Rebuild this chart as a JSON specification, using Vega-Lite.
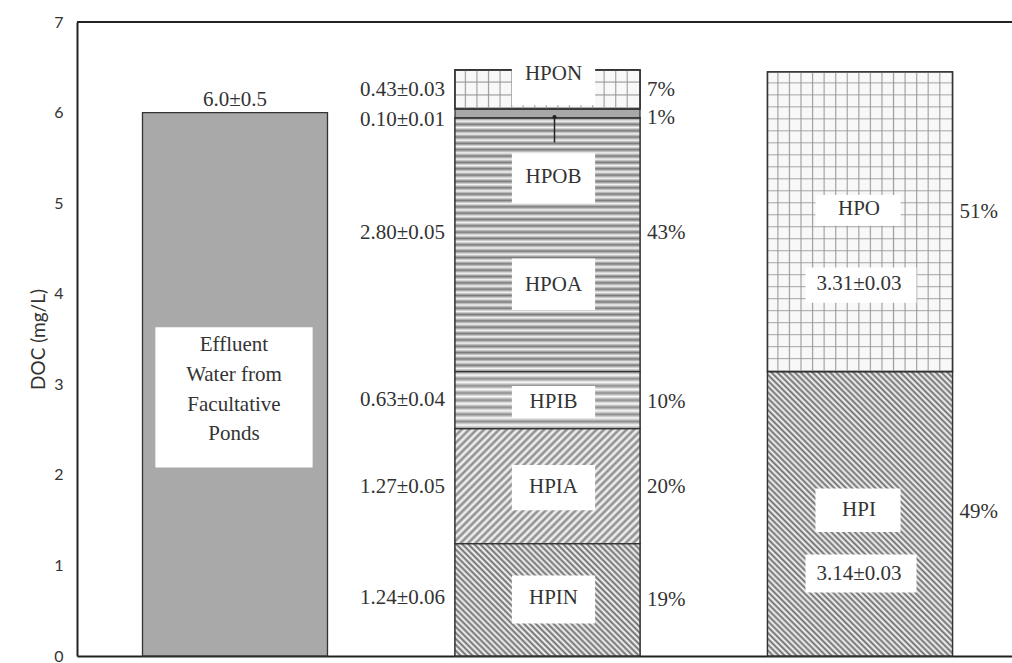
{
  "$schema": "https://vega.github.io/schema/vega-lite/v6.json",
  "width": 935,
  "height": 634,
  "autosize": {"type": "none"},
  "padding": {"left": 77, "top": 22, "right": 0, "bottom": 7},
  "background": "white",
  "config": {
    "view": {"stroke": null},
    "text": {"font": "Liberation Serif", "fontSize": 21, "color": "#333333"}
  },
  "datasets": {
    "segments": [
      {"sample": "Effluent", "fraction": "Effluent", "doc": 6.0, "seq": 1},
      {"sample": "Fractions", "fraction": "HPIN", "doc": 1.24, "seq": 1},
      {"sample": "Fractions", "fraction": "HPIA", "doc": 1.27, "seq": 2},
      {"sample": "Fractions", "fraction": "HPIB", "doc": 0.63, "seq": 3},
      {"sample": "Fractions", "fraction": "HPOA", "doc": 2.80, "seq": 4},
      {"sample": "Fractions", "fraction": "HPOB", "doc": 0.10, "seq": 5},
      {"sample": "Fractions", "fraction": "HPON", "doc": 0.43, "seq": 6},
      {"sample": "Combined", "fraction": "HPI", "doc": 3.14, "seq": 1},
      {"sample": "Combined", "fraction": "HPO", "doc": 3.31, "seq": 2}
    ],
    "boxes": [
      {"sample": "Effluent", "label": "Effluent", "lo": 2.08, "hi": 3.63},
      {"sample": "Fractions", "label": "HPON", "lo": 6.08, "hi": 6.49},
      {"sample": "Fractions", "label": "HPOB", "lo": 5.0, "hi": 5.55},
      {"sample": "Fractions", "label": "HPOA", "lo": 3.82, "hi": 4.39},
      {"sample": "Fractions", "label": "HPIB", "lo": 2.63, "hi": 2.98},
      {"sample": "Fractions", "label": "HPIA", "lo": 1.61, "hi": 2.11},
      {"sample": "Fractions", "label": "HPIN", "lo": 0.36, "hi": 0.89},
      {"sample": "Combined", "label": "HPO", "lo": 4.75, "hi": 5.09},
      {"sample": "Combined", "label": "HPI", "lo": 1.37, "hi": 1.85},
      {"sample": "Combined", "label": "3.31±0.03", "lo": 3.9, "hi": 4.29},
      {"sample": "Combined", "label": "3.14±0.03", "lo": 0.7, "hi": 1.12}
    ],
    "innerText": [
      {"sample": "Effluent", "text": "Effluent", "at": 3.43},
      {"sample": "Effluent", "text": "Water from", "at": 3.1},
      {"sample": "Effluent", "text": "Facultative", "at": 2.77},
      {"sample": "Effluent", "text": "Ponds", "at": 2.45},
      {"sample": "Fractions", "text": "HPON", "at": 6.43},
      {"sample": "Fractions", "text": "HPOB", "at": 5.29},
      {"sample": "Fractions", "text": "HPOA", "at": 4.1},
      {"sample": "Fractions", "text": "HPIB", "at": 2.8},
      {"sample": "Fractions", "text": "HPIA", "at": 1.87},
      {"sample": "Fractions", "text": "HPIN", "at": 0.64},
      {"sample": "Combined", "text": "HPO", "at": 4.94},
      {"sample": "Combined", "text": "3.31±0.03", "at": 4.11},
      {"sample": "Combined", "text": "HPI", "at": 1.61},
      {"sample": "Combined", "text": "3.14±0.03", "at": 0.91}
    ],
    "leftText": [
      {"sample": "Fractions", "text": "0.43±0.03", "at": 6.25},
      {"sample": "Fractions", "text": "0.10±0.01", "at": 5.92},
      {"sample": "Fractions", "text": "2.80±0.05", "at": 4.67},
      {"sample": "Fractions", "text": "0.63±0.04", "at": 2.83},
      {"sample": "Fractions", "text": "1.27±0.05", "at": 1.87},
      {"sample": "Fractions", "text": "1.24±0.06", "at": 0.64}
    ],
    "rightText": [
      {"sample": "Fractions", "text": "7%", "at": 6.25},
      {"sample": "Fractions", "text": "1%", "at": 5.94},
      {"sample": "Fractions", "text": "43%", "at": 4.67},
      {"sample": "Fractions", "text": "10%", "at": 2.8},
      {"sample": "Fractions", "text": "20%", "at": 1.87},
      {"sample": "Fractions", "text": "19%", "at": 0.62},
      {"sample": "Combined", "text": "51%", "at": 4.9},
      {"sample": "Combined", "text": "49%", "at": 1.59}
    ],
    "topText": [
      {"sample": "Effluent", "text": "6.0±0.5", "at": 6.0}
    ],
    "pointer": [
      {"sample": "Fractions", "from": 5.95, "to": 5.67}
    ]
  },
  "layer": [
    {
      "data": {"name": "segments"},
      "mark": {"type": "bar", "stroke": "#333333", "strokeWidth": 1.3},
      "encoding": {
        "x": {
          "field": "sample",
          "type": "nominal",
          "sort": ["Effluent", "Fractions", "Combined"],
          "scale": {"domain": ["Effluent", "Fractions", "Combined"], "paddingInner": 0.408, "paddingOuter": 0.2, "align": 0.524},
          "axis": {
            "title": null,
            "labels": false,
            "ticks": false,
            "grid": false,
            "domain": true,
            "domainColor": "#222222",
            "domainWidth": 2
          }
        },
        "y": {
          "field": "doc",
          "type": "quantitative",
          "stack": "zero",
          "scale": {"domain": [0, 7], "nice": false},
          "axis": {
            "values": [0, 1, 2, 3, 4, 5, 6, 7],
            "format": ".0f",
            "ticks": false,
            "grid": false,
            "domain": true,
            "domainColor": "#222222",
            "domainWidth": 2,
            "labelFont": "Lato",
            "labelFontSize": 16,
            "labelColor": "#333333",
            "labelPadding": 14,
            "labelBaseline": "middle",
            "title": "DOC (mg/L)",
            "titleFont": "Lato",
            "titleFontSize": 19,
            "titleFontWeight": "normal",
            "titleColor": "#333333",
            "titlePadding": 5
          }
        },
        "fill": {
          "field": "fraction",
          "type": "nominal",
          "legend": null,
          "scale": {
            "domain": ["Effluent", "HPIN", "HPIA", "HPIB", "HPOA", "HPOB", "HPON", "HPI", "HPO"],
            "range": ["#a9a9a9", "#bdbdbd", "#d3d3d3", "#d8d8d8", "#c3c3c3", "#a8a8a8", "#e2e2e2", "#bdbdbd", "#e0e0e0"]
          }
        },
        "order": {"field": "seq", "type": "quantitative"}
      }
    },
    {
      "data": {"values": [{}]},
      "mark": {"type": "rule", "color": "#222222", "strokeWidth": 2},
      "encoding": {"y": {"datum": 7}}
    },
    {
      "data": {"name": "segments"},
      "transform": [
        {"stack": "doc", "groupby": ["sample"], "sort": [{"field": "seq", "order": "ascending"}], "as": ["lo", "hi"]},
        {"filter": {"field": "fraction", "equal": "HPIN"}}
      ],
      "mark": {
        "type": "bar", "stroke": "#333333", "strokeWidth": 1.3,
        "fill": {
          "gradient": "linear", "x1": 0, "y1": 1, "x2": 1.1749, "y2": 0.2888,
          "stops": [
            {"offset": 0, "color": "#6c6c6c"}, {"offset": 0.01, "color": "#fbfbfb"}, {"offset": 0.02, "color": "#6c6c6c"}, {"offset": 0.03, "color": "#fbfbfb"}, {"offset": 0.04, "color": "#6c6c6c"}, {"offset": 0.05, "color": "#fbfbfb"}, {"offset": 0.06, "color": "#6c6c6c"}, {"offset": 0.07, "color": "#fbfbfb"}, {"offset": 0.08, "color": "#6c6c6c"}, {"offset": 0.09, "color": "#fbfbfb"},
            {"offset": 0.1, "color": "#6c6c6c"}, {"offset": 0.11, "color": "#fbfbfb"}, {"offset": 0.12, "color": "#6c6c6c"}, {"offset": 0.13, "color": "#fbfbfb"}, {"offset": 0.14, "color": "#6c6c6c"}, {"offset": 0.15, "color": "#fbfbfb"}, {"offset": 0.16, "color": "#6c6c6c"}, {"offset": 0.17, "color": "#fbfbfb"}, {"offset": 0.18, "color": "#6c6c6c"}, {"offset": 0.19, "color": "#fbfbfb"},
            {"offset": 0.2, "color": "#6c6c6c"}, {"offset": 0.21, "color": "#fbfbfb"}, {"offset": 0.22, "color": "#6c6c6c"}, {"offset": 0.23, "color": "#fbfbfb"}, {"offset": 0.24, "color": "#6c6c6c"}, {"offset": 0.25, "color": "#fbfbfb"}, {"offset": 0.26, "color": "#6c6c6c"}, {"offset": 0.27, "color": "#fbfbfb"}, {"offset": 0.28, "color": "#6c6c6c"}, {"offset": 0.29, "color": "#fbfbfb"},
            {"offset": 0.3, "color": "#6c6c6c"}, {"offset": 0.31, "color": "#fbfbfb"}, {"offset": 0.32, "color": "#6c6c6c"}, {"offset": 0.33, "color": "#fbfbfb"}, {"offset": 0.34, "color": "#6c6c6c"}, {"offset": 0.35, "color": "#fbfbfb"}, {"offset": 0.36, "color": "#6c6c6c"}, {"offset": 0.37, "color": "#fbfbfb"}, {"offset": 0.38, "color": "#6c6c6c"}, {"offset": 0.39, "color": "#fbfbfb"},
            {"offset": 0.4, "color": "#6c6c6c"}, {"offset": 0.41, "color": "#fbfbfb"}, {"offset": 0.42, "color": "#6c6c6c"}, {"offset": 0.43, "color": "#fbfbfb"}, {"offset": 0.44, "color": "#6c6c6c"}, {"offset": 0.45, "color": "#fbfbfb"}, {"offset": 0.46, "color": "#6c6c6c"}, {"offset": 0.47, "color": "#fbfbfb"}, {"offset": 0.48, "color": "#6c6c6c"}, {"offset": 0.49, "color": "#fbfbfb"},
            {"offset": 0.5, "color": "#6c6c6c"}, {"offset": 0.51, "color": "#fbfbfb"}, {"offset": 0.52, "color": "#6c6c6c"}, {"offset": 0.53, "color": "#fbfbfb"}, {"offset": 0.54, "color": "#6c6c6c"}, {"offset": 0.55, "color": "#fbfbfb"}, {"offset": 0.56, "color": "#6c6c6c"}, {"offset": 0.57, "color": "#fbfbfb"}, {"offset": 0.58, "color": "#6c6c6c"}, {"offset": 0.59, "color": "#fbfbfb"},
            {"offset": 0.6, "color": "#6c6c6c"}, {"offset": 0.61, "color": "#fbfbfb"}, {"offset": 0.62, "color": "#6c6c6c"}, {"offset": 0.63, "color": "#fbfbfb"}, {"offset": 0.64, "color": "#6c6c6c"}, {"offset": 0.65, "color": "#fbfbfb"}, {"offset": 0.66, "color": "#6c6c6c"}, {"offset": 0.67, "color": "#fbfbfb"}, {"offset": 0.68, "color": "#6c6c6c"}, {"offset": 0.69, "color": "#fbfbfb"},
            {"offset": 0.7, "color": "#6c6c6c"}, {"offset": 0.71, "color": "#fbfbfb"}, {"offset": 0.72, "color": "#6c6c6c"}, {"offset": 0.73, "color": "#fbfbfb"}, {"offset": 0.74, "color": "#6c6c6c"}, {"offset": 0.75, "color": "#fbfbfb"}, {"offset": 0.76, "color": "#6c6c6c"}, {"offset": 0.77, "color": "#fbfbfb"}, {"offset": 0.78, "color": "#6c6c6c"}, {"offset": 0.79, "color": "#fbfbfb"},
            {"offset": 0.8, "color": "#6c6c6c"}, {"offset": 0.81, "color": "#fbfbfb"}, {"offset": 0.82, "color": "#6c6c6c"}, {"offset": 0.83, "color": "#fbfbfb"}, {"offset": 0.84, "color": "#6c6c6c"}, {"offset": 0.85, "color": "#fbfbfb"}, {"offset": 0.86, "color": "#6c6c6c"}, {"offset": 0.87, "color": "#fbfbfb"}, {"offset": 0.88, "color": "#6c6c6c"}, {"offset": 0.89, "color": "#fbfbfb"},
            {"offset": 0.9, "color": "#6c6c6c"}, {"offset": 0.91, "color": "#fbfbfb"}, {"offset": 0.92, "color": "#6c6c6c"}, {"offset": 0.93, "color": "#fbfbfb"}, {"offset": 0.94, "color": "#6c6c6c"}, {"offset": 0.95, "color": "#fbfbfb"}, {"offset": 0.96, "color": "#6c6c6c"}, {"offset": 0.97, "color": "#fbfbfb"}, {"offset": 0.98, "color": "#6c6c6c"}, {"offset": 0.99, "color": "#fbfbfb"},
            {"offset": 1, "color": "#6c6c6c"}
          ]
        }
      },
      "encoding": {
        "x": {"field": "sample", "type": "nominal"},
        "y": {"field": "lo", "type": "quantitative"},
        "y2": {"field": "hi"}
      }
    },
    {
      "data": {"name": "segments"},
      "transform": [
        {"stack": "doc", "groupby": ["sample"], "sort": [{"field": "seq", "order": "ascending"}], "as": ["lo", "hi"]},
        {"filter": {"field": "fraction", "equal": "HPI"}}
      ],
      "mark": {
        "type": "bar", "stroke": "#333333", "strokeWidth": 1.3,
        "fill": {
          "gradient": "linear", "x1": 0, "y1": 1, "x2": 0.7544, "y2": -0.1597,
          "stops": [
            {"offset": 0, "color": "#6c6c6c"}, {"offset": 0.00625, "color": "#fbfbfb"}, {"offset": 0.0125, "color": "#6c6c6c"}, {"offset": 0.01875, "color": "#fbfbfb"}, {"offset": 0.025, "color": "#6c6c6c"}, {"offset": 0.03125, "color": "#fbfbfb"}, {"offset": 0.0375, "color": "#6c6c6c"}, {"offset": 0.04375, "color": "#fbfbfb"},
            {"offset": 0.05, "color": "#6c6c6c"}, {"offset": 0.05625, "color": "#fbfbfb"}, {"offset": 0.0625, "color": "#6c6c6c"}, {"offset": 0.06875, "color": "#fbfbfb"}, {"offset": 0.075, "color": "#6c6c6c"}, {"offset": 0.08125, "color": "#fbfbfb"}, {"offset": 0.0875, "color": "#6c6c6c"}, {"offset": 0.09375, "color": "#fbfbfb"},
            {"offset": 0.1, "color": "#6c6c6c"}, {"offset": 0.10625, "color": "#fbfbfb"}, {"offset": 0.1125, "color": "#6c6c6c"}, {"offset": 0.11875, "color": "#fbfbfb"}, {"offset": 0.125, "color": "#6c6c6c"}, {"offset": 0.13125, "color": "#fbfbfb"}, {"offset": 0.1375, "color": "#6c6c6c"}, {"offset": 0.14375, "color": "#fbfbfb"},
            {"offset": 0.15, "color": "#6c6c6c"}, {"offset": 0.15625, "color": "#fbfbfb"}, {"offset": 0.1625, "color": "#6c6c6c"}, {"offset": 0.16875, "color": "#fbfbfb"}, {"offset": 0.175, "color": "#6c6c6c"}, {"offset": 0.18125, "color": "#fbfbfb"}, {"offset": 0.1875, "color": "#6c6c6c"}, {"offset": 0.19375, "color": "#fbfbfb"},
            {"offset": 0.2, "color": "#6c6c6c"}, {"offset": 0.20625, "color": "#fbfbfb"}, {"offset": 0.2125, "color": "#6c6c6c"}, {"offset": 0.21875, "color": "#fbfbfb"}, {"offset": 0.225, "color": "#6c6c6c"}, {"offset": 0.23125, "color": "#fbfbfb"}, {"offset": 0.2375, "color": "#6c6c6c"}, {"offset": 0.24375, "color": "#fbfbfb"},
            {"offset": 0.25, "color": "#6c6c6c"}, {"offset": 0.25625, "color": "#fbfbfb"}, {"offset": 0.2625, "color": "#6c6c6c"}, {"offset": 0.26875, "color": "#fbfbfb"}, {"offset": 0.275, "color": "#6c6c6c"}, {"offset": 0.28125, "color": "#fbfbfb"}, {"offset": 0.2875, "color": "#6c6c6c"}, {"offset": 0.29375, "color": "#fbfbfb"},
            {"offset": 0.3, "color": "#6c6c6c"}, {"offset": 0.30625, "color": "#fbfbfb"}, {"offset": 0.3125, "color": "#6c6c6c"}, {"offset": 0.31875, "color": "#fbfbfb"}, {"offset": 0.325, "color": "#6c6c6c"}, {"offset": 0.33125, "color": "#fbfbfb"}, {"offset": 0.3375, "color": "#6c6c6c"}, {"offset": 0.34375, "color": "#fbfbfb"},
            {"offset": 0.35, "color": "#6c6c6c"}, {"offset": 0.35625, "color": "#fbfbfb"}, {"offset": 0.3625, "color": "#6c6c6c"}, {"offset": 0.36875, "color": "#fbfbfb"}, {"offset": 0.375, "color": "#6c6c6c"}, {"offset": 0.38125, "color": "#fbfbfb"}, {"offset": 0.3875, "color": "#6c6c6c"}, {"offset": 0.39375, "color": "#fbfbfb"},
            {"offset": 0.4, "color": "#6c6c6c"}, {"offset": 0.40625, "color": "#fbfbfb"}, {"offset": 0.4125, "color": "#6c6c6c"}, {"offset": 0.41875, "color": "#fbfbfb"}, {"offset": 0.425, "color": "#6c6c6c"}, {"offset": 0.43125, "color": "#fbfbfb"}, {"offset": 0.4375, "color": "#6c6c6c"}, {"offset": 0.44375, "color": "#fbfbfb"},
            {"offset": 0.45, "color": "#6c6c6c"}, {"offset": 0.45625, "color": "#fbfbfb"}, {"offset": 0.4625, "color": "#6c6c6c"}, {"offset": 0.46875, "color": "#fbfbfb"}, {"offset": 0.475, "color": "#6c6c6c"}, {"offset": 0.48125, "color": "#fbfbfb"}, {"offset": 0.4875, "color": "#6c6c6c"}, {"offset": 0.49375, "color": "#fbfbfb"},
            {"offset": 0.5, "color": "#6c6c6c"}, {"offset": 0.50625, "color": "#fbfbfb"}, {"offset": 0.5125, "color": "#6c6c6c"}, {"offset": 0.51875, "color": "#fbfbfb"}, {"offset": 0.525, "color": "#6c6c6c"}, {"offset": 0.53125, "color": "#fbfbfb"}, {"offset": 0.5375, "color": "#6c6c6c"}, {"offset": 0.54375, "color": "#fbfbfb"},
            {"offset": 0.55, "color": "#6c6c6c"}, {"offset": 0.55625, "color": "#fbfbfb"}, {"offset": 0.5625, "color": "#6c6c6c"}, {"offset": 0.56875, "color": "#fbfbfb"}, {"offset": 0.575, "color": "#6c6c6c"}, {"offset": 0.58125, "color": "#fbfbfb"}, {"offset": 0.5875, "color": "#6c6c6c"}, {"offset": 0.59375, "color": "#fbfbfb"},
            {"offset": 0.6, "color": "#6c6c6c"}, {"offset": 0.60625, "color": "#fbfbfb"}, {"offset": 0.6125, "color": "#6c6c6c"}, {"offset": 0.61875, "color": "#fbfbfb"}, {"offset": 0.625, "color": "#6c6c6c"}, {"offset": 0.63125, "color": "#fbfbfb"}, {"offset": 0.6375, "color": "#6c6c6c"}, {"offset": 0.64375, "color": "#fbfbfb"},
            {"offset": 0.65, "color": "#6c6c6c"}, {"offset": 0.65625, "color": "#fbfbfb"}, {"offset": 0.6625, "color": "#6c6c6c"}, {"offset": 0.66875, "color": "#fbfbfb"}, {"offset": 0.675, "color": "#6c6c6c"}, {"offset": 0.68125, "color": "#fbfbfb"}, {"offset": 0.6875, "color": "#6c6c6c"}, {"offset": 0.69375, "color": "#fbfbfb"},
            {"offset": 0.7, "color": "#6c6c6c"}, {"offset": 0.70625, "color": "#fbfbfb"}, {"offset": 0.7125, "color": "#6c6c6c"}, {"offset": 0.71875, "color": "#fbfbfb"}, {"offset": 0.725, "color": "#6c6c6c"}, {"offset": 0.73125, "color": "#fbfbfb"}, {"offset": 0.7375, "color": "#6c6c6c"}, {"offset": 0.74375, "color": "#fbfbfb"},
            {"offset": 0.75, "color": "#6c6c6c"}, {"offset": 0.75625, "color": "#fbfbfb"}, {"offset": 0.7625, "color": "#6c6c6c"}, {"offset": 0.76875, "color": "#fbfbfb"}, {"offset": 0.775, "color": "#6c6c6c"}, {"offset": 0.78125, "color": "#fbfbfb"}, {"offset": 0.7875, "color": "#6c6c6c"}, {"offset": 0.79375, "color": "#fbfbfb"},
            {"offset": 0.8, "color": "#6c6c6c"}, {"offset": 0.80625, "color": "#fbfbfb"}, {"offset": 0.8125, "color": "#6c6c6c"}, {"offset": 0.81875, "color": "#fbfbfb"}, {"offset": 0.825, "color": "#6c6c6c"}, {"offset": 0.83125, "color": "#fbfbfb"}, {"offset": 0.8375, "color": "#6c6c6c"}, {"offset": 0.84375, "color": "#fbfbfb"},
            {"offset": 0.85, "color": "#6c6c6c"}, {"offset": 0.85625, "color": "#fbfbfb"}, {"offset": 0.8625, "color": "#6c6c6c"}, {"offset": 0.86875, "color": "#fbfbfb"}, {"offset": 0.875, "color": "#6c6c6c"}, {"offset": 0.88125, "color": "#fbfbfb"}, {"offset": 0.8875, "color": "#6c6c6c"}, {"offset": 0.89375, "color": "#fbfbfb"},
            {"offset": 0.9, "color": "#6c6c6c"}, {"offset": 0.90625, "color": "#fbfbfb"}, {"offset": 0.9125, "color": "#6c6c6c"}, {"offset": 0.91875, "color": "#fbfbfb"}, {"offset": 0.925, "color": "#6c6c6c"}, {"offset": 0.93125, "color": "#fbfbfb"}, {"offset": 0.9375, "color": "#6c6c6c"}, {"offset": 0.94375, "color": "#fbfbfb"},
            {"offset": 0.95, "color": "#6c6c6c"}, {"offset": 0.95625, "color": "#fbfbfb"}, {"offset": 0.9625, "color": "#6c6c6c"}, {"offset": 0.96875, "color": "#fbfbfb"}, {"offset": 0.975, "color": "#6c6c6c"}, {"offset": 0.98125, "color": "#fbfbfb"}, {"offset": 0.9875, "color": "#6c6c6c"}, {"offset": 0.99375, "color": "#fbfbfb"},
            {"offset": 1, "color": "#6c6c6c"}
          ]
        }
      },
      "encoding": {
        "x": {"field": "sample", "type": "nominal"},
        "y": {"field": "lo", "type": "quantitative"},
        "y2": {"field": "hi"}
      }
    },
    {
      "data": {"name": "segments"},
      "transform": [
        {"stack": "doc", "groupby": ["sample"], "sort": [{"field": "seq", "order": "ascending"}], "as": ["lo", "hi"]},
        {"filter": {"field": "fraction", "equal": "HPIA"}}
      ],
      "mark": {
        "type": "bar", "stroke": "#333333", "strokeWidth": 1.3,
        "fill": {
          "gradient": "linear", "x1": 0, "y1": 0, "x2": 1.1696, "y2": 0.7269,
          "stops": [
            {"offset": 0, "color": "#848484"}, {"offset": 0.0125, "color": "#fcfcfc"}, {"offset": 0.025, "color": "#848484"}, {"offset": 0.0375, "color": "#fcfcfc"}, {"offset": 0.05, "color": "#848484"}, {"offset": 0.0625, "color": "#fcfcfc"}, {"offset": 0.075, "color": "#848484"}, {"offset": 0.0875, "color": "#fcfcfc"},
            {"offset": 0.1, "color": "#848484"}, {"offset": 0.1125, "color": "#fcfcfc"}, {"offset": 0.125, "color": "#848484"}, {"offset": 0.1375, "color": "#fcfcfc"}, {"offset": 0.15, "color": "#848484"}, {"offset": 0.1625, "color": "#fcfcfc"}, {"offset": 0.175, "color": "#848484"}, {"offset": 0.1875, "color": "#fcfcfc"},
            {"offset": 0.2, "color": "#848484"}, {"offset": 0.2125, "color": "#fcfcfc"}, {"offset": 0.225, "color": "#848484"}, {"offset": 0.2375, "color": "#fcfcfc"}, {"offset": 0.25, "color": "#848484"}, {"offset": 0.2625, "color": "#fcfcfc"}, {"offset": 0.275, "color": "#848484"}, {"offset": 0.2875, "color": "#fcfcfc"},
            {"offset": 0.3, "color": "#848484"}, {"offset": 0.3125, "color": "#fcfcfc"}, {"offset": 0.325, "color": "#848484"}, {"offset": 0.3375, "color": "#fcfcfc"}, {"offset": 0.35, "color": "#848484"}, {"offset": 0.3625, "color": "#fcfcfc"}, {"offset": 0.375, "color": "#848484"}, {"offset": 0.3875, "color": "#fcfcfc"},
            {"offset": 0.4, "color": "#848484"}, {"offset": 0.4125, "color": "#fcfcfc"}, {"offset": 0.425, "color": "#848484"}, {"offset": 0.4375, "color": "#fcfcfc"}, {"offset": 0.45, "color": "#848484"}, {"offset": 0.4625, "color": "#fcfcfc"}, {"offset": 0.475, "color": "#848484"}, {"offset": 0.4875, "color": "#fcfcfc"},
            {"offset": 0.5, "color": "#848484"}, {"offset": 0.5125, "color": "#fcfcfc"}, {"offset": 0.525, "color": "#848484"}, {"offset": 0.5375, "color": "#fcfcfc"}, {"offset": 0.55, "color": "#848484"}, {"offset": 0.5625, "color": "#fcfcfc"}, {"offset": 0.575, "color": "#848484"}, {"offset": 0.5875, "color": "#fcfcfc"},
            {"offset": 0.6, "color": "#848484"}, {"offset": 0.6125, "color": "#fcfcfc"}, {"offset": 0.625, "color": "#848484"}, {"offset": 0.6375, "color": "#fcfcfc"}, {"offset": 0.65, "color": "#848484"}, {"offset": 0.6625, "color": "#fcfcfc"}, {"offset": 0.675, "color": "#848484"}, {"offset": 0.6875, "color": "#fcfcfc"},
            {"offset": 0.7, "color": "#848484"}, {"offset": 0.7125, "color": "#fcfcfc"}, {"offset": 0.725, "color": "#848484"}, {"offset": 0.7375, "color": "#fcfcfc"}, {"offset": 0.75, "color": "#848484"}, {"offset": 0.7625, "color": "#fcfcfc"}, {"offset": 0.775, "color": "#848484"}, {"offset": 0.7875, "color": "#fcfcfc"},
            {"offset": 0.8, "color": "#848484"}, {"offset": 0.8125, "color": "#fcfcfc"}, {"offset": 0.825, "color": "#848484"}, {"offset": 0.8375, "color": "#fcfcfc"}, {"offset": 0.85, "color": "#848484"}, {"offset": 0.8625, "color": "#fcfcfc"}, {"offset": 0.875, "color": "#848484"}, {"offset": 0.8875, "color": "#fcfcfc"},
            {"offset": 0.9, "color": "#848484"}, {"offset": 0.9125, "color": "#fcfcfc"}, {"offset": 0.925, "color": "#848484"}, {"offset": 0.9375, "color": "#fcfcfc"}, {"offset": 0.95, "color": "#848484"}, {"offset": 0.9625, "color": "#fcfcfc"}, {"offset": 0.975, "color": "#848484"}, {"offset": 0.9875, "color": "#fcfcfc"},
            {"offset": 1, "color": "#848484"}
          ]
        }
      },
      "encoding": {
        "x": {"field": "sample", "type": "nominal"},
        "y": {"field": "lo", "type": "quantitative"},
        "y2": {"field": "hi"}
      }
    },
    {
      "data": {"name": "segments"},
      "transform": [
        {"stack": "doc", "groupby": ["sample"], "sort": [{"field": "seq", "order": "ascending"}], "as": ["lo", "hi"]},
        {"filter": {"field": "fraction", "equal": "HPOA"}}
      ],
      "mark": {
        "type": "bar", "stroke": "#333333", "strokeWidth": 1.3,
        "fill": {
          "gradient": "linear", "x1": 0, "y1": 0, "x2": 0, "y2": 1,
          "stops": [
            {"offset": 0, "color": "#7a7a7a"}, {"offset": 0.0125, "color": "#f4f4f4"}, {"offset": 0.025, "color": "#7a7a7a"}, {"offset": 0.0375, "color": "#f4f4f4"}, {"offset": 0.05, "color": "#7a7a7a"}, {"offset": 0.0625, "color": "#f4f4f4"}, {"offset": 0.075, "color": "#7a7a7a"}, {"offset": 0.0875, "color": "#f4f4f4"},
            {"offset": 0.1, "color": "#7a7a7a"}, {"offset": 0.1125, "color": "#f4f4f4"}, {"offset": 0.125, "color": "#7a7a7a"}, {"offset": 0.1375, "color": "#f4f4f4"}, {"offset": 0.15, "color": "#7a7a7a"}, {"offset": 0.1625, "color": "#f4f4f4"}, {"offset": 0.175, "color": "#7a7a7a"}, {"offset": 0.1875, "color": "#f4f4f4"},
            {"offset": 0.2, "color": "#7a7a7a"}, {"offset": 0.2125, "color": "#f4f4f4"}, {"offset": 0.225, "color": "#7a7a7a"}, {"offset": 0.2375, "color": "#f4f4f4"}, {"offset": 0.25, "color": "#7a7a7a"}, {"offset": 0.2625, "color": "#f4f4f4"}, {"offset": 0.275, "color": "#7a7a7a"}, {"offset": 0.2875, "color": "#f4f4f4"},
            {"offset": 0.3, "color": "#7a7a7a"}, {"offset": 0.3125, "color": "#f4f4f4"}, {"offset": 0.325, "color": "#7a7a7a"}, {"offset": 0.3375, "color": "#f4f4f4"}, {"offset": 0.35, "color": "#7a7a7a"}, {"offset": 0.3625, "color": "#f4f4f4"}, {"offset": 0.375, "color": "#7a7a7a"}, {"offset": 0.3875, "color": "#f4f4f4"},
            {"offset": 0.4, "color": "#7a7a7a"}, {"offset": 0.4125, "color": "#f4f4f4"}, {"offset": 0.425, "color": "#7a7a7a"}, {"offset": 0.4375, "color": "#f4f4f4"}, {"offset": 0.45, "color": "#7a7a7a"}, {"offset": 0.4625, "color": "#f4f4f4"}, {"offset": 0.475, "color": "#7a7a7a"}, {"offset": 0.4875, "color": "#f4f4f4"},
            {"offset": 0.5, "color": "#7a7a7a"}, {"offset": 0.5125, "color": "#f4f4f4"}, {"offset": 0.525, "color": "#7a7a7a"}, {"offset": 0.5375, "color": "#f4f4f4"}, {"offset": 0.55, "color": "#7a7a7a"}, {"offset": 0.5625, "color": "#f4f4f4"}, {"offset": 0.575, "color": "#7a7a7a"}, {"offset": 0.5875, "color": "#f4f4f4"},
            {"offset": 0.6, "color": "#7a7a7a"}, {"offset": 0.6125, "color": "#f4f4f4"}, {"offset": 0.625, "color": "#7a7a7a"}, {"offset": 0.6375, "color": "#f4f4f4"}, {"offset": 0.65, "color": "#7a7a7a"}, {"offset": 0.6625, "color": "#f4f4f4"}, {"offset": 0.675, "color": "#7a7a7a"}, {"offset": 0.6875, "color": "#f4f4f4"},
            {"offset": 0.7, "color": "#7a7a7a"}, {"offset": 0.7125, "color": "#f4f4f4"}, {"offset": 0.725, "color": "#7a7a7a"}, {"offset": 0.7375, "color": "#f4f4f4"}, {"offset": 0.75, "color": "#7a7a7a"}, {"offset": 0.7625, "color": "#f4f4f4"}, {"offset": 0.775, "color": "#7a7a7a"}, {"offset": 0.7875, "color": "#f4f4f4"},
            {"offset": 0.8, "color": "#7a7a7a"}, {"offset": 0.8125, "color": "#f4f4f4"}, {"offset": 0.825, "color": "#7a7a7a"}, {"offset": 0.8375, "color": "#f4f4f4"}, {"offset": 0.85, "color": "#7a7a7a"}, {"offset": 0.8625, "color": "#f4f4f4"}, {"offset": 0.875, "color": "#7a7a7a"}, {"offset": 0.8875, "color": "#f4f4f4"},
            {"offset": 0.9, "color": "#7a7a7a"}, {"offset": 0.9125, "color": "#f4f4f4"}, {"offset": 0.925, "color": "#7a7a7a"}, {"offset": 0.9375, "color": "#f4f4f4"}, {"offset": 0.95, "color": "#7a7a7a"}, {"offset": 0.9625, "color": "#f4f4f4"}, {"offset": 0.975, "color": "#7a7a7a"}, {"offset": 0.9875, "color": "#f4f4f4"},
            {"offset": 1, "color": "#7a7a7a"}
          ]
        }
      },
      "encoding": {
        "x": {"field": "sample", "type": "nominal"},
        "y": {"field": "lo", "type": "quantitative"},
        "y2": {"field": "hi"}
      }
    },
    {
      "data": {"name": "segments"},
      "transform": [
        {"stack": "doc", "groupby": ["sample"], "sort": [{"field": "seq", "order": "ascending"}], "as": ["lo", "hi"]},
        {"filter": {"field": "fraction", "equal": "HPIB"}}
      ],
      "mark": {
        "type": "bar", "stroke": "#333333", "strokeWidth": 1.3,
        "fill": {
          "gradient": "linear", "x1": 0, "y1": 0, "x2": 0, "y2": 1,
          "stops": [
            {"offset": 0, "color": "#8c8c8c"}, {"offset": 0.0625, "color": "#fafafa"}, {"offset": 0.125, "color": "#8c8c8c"}, {"offset": 0.1875, "color": "#fafafa"},
            {"offset": 0.25, "color": "#8c8c8c"}, {"offset": 0.3125, "color": "#fafafa"}, {"offset": 0.375, "color": "#8c8c8c"}, {"offset": 0.4375, "color": "#fafafa"},
            {"offset": 0.5, "color": "#8c8c8c"}, {"offset": 0.5625, "color": "#fafafa"}, {"offset": 0.625, "color": "#8c8c8c"}, {"offset": 0.6875, "color": "#fafafa"},
            {"offset": 0.75, "color": "#8c8c8c"}, {"offset": 0.8125, "color": "#fafafa"}, {"offset": 0.875, "color": "#8c8c8c"}, {"offset": 0.9375, "color": "#fafafa"},
            {"offset": 1, "color": "#8c8c8c"}
          ]
        }
      },
      "encoding": {
        "x": {"field": "sample", "type": "nominal"},
        "y": {"field": "lo", "type": "quantitative"},
        "y2": {"field": "hi"}
      }
    },
    {
      "data": {"name": "segments"},
      "transform": [
        {"stack": "doc", "groupby": ["sample"], "sort": [{"field": "seq", "order": "ascending"}], "as": ["lo", "hi"]},
        {"filter": {"field": "fraction", "equal": "HPO"}}
      ],
      "mark": {
        "type": "bar", "stroke": "#333333", "strokeWidth": 1.3,
        "fill": {
          "gradient": "linear", "x1": 0, "y1": 0, "x2": 0, "y2": 1,
          "stops": [
            {"offset": 0, "color": "#f8f8f8"}, {"offset": 0.034, "color": "#f8f8f8"}, {"offset": 0.037, "color": "#9a9a9a"},
            {"offset": 0.04, "color": "#f8f8f8"}, {"offset": 0.074, "color": "#f8f8f8"}, {"offset": 0.077, "color": "#9a9a9a"},
            {"offset": 0.08, "color": "#f8f8f8"}, {"offset": 0.114, "color": "#f8f8f8"}, {"offset": 0.117, "color": "#9a9a9a"},
            {"offset": 0.12, "color": "#f8f8f8"}, {"offset": 0.154, "color": "#f8f8f8"}, {"offset": 0.157, "color": "#9a9a9a"},
            {"offset": 0.16, "color": "#f8f8f8"}, {"offset": 0.194, "color": "#f8f8f8"}, {"offset": 0.197, "color": "#9a9a9a"},
            {"offset": 0.2, "color": "#f8f8f8"}, {"offset": 0.234, "color": "#f8f8f8"}, {"offset": 0.237, "color": "#9a9a9a"},
            {"offset": 0.24, "color": "#f8f8f8"}, {"offset": 0.274, "color": "#f8f8f8"}, {"offset": 0.277, "color": "#9a9a9a"},
            {"offset": 0.28, "color": "#f8f8f8"}, {"offset": 0.314, "color": "#f8f8f8"}, {"offset": 0.317, "color": "#9a9a9a"},
            {"offset": 0.32, "color": "#f8f8f8"}, {"offset": 0.354, "color": "#f8f8f8"}, {"offset": 0.357, "color": "#9a9a9a"},
            {"offset": 0.36, "color": "#f8f8f8"}, {"offset": 0.394, "color": "#f8f8f8"}, {"offset": 0.397, "color": "#9a9a9a"},
            {"offset": 0.4, "color": "#f8f8f8"}, {"offset": 0.434, "color": "#f8f8f8"}, {"offset": 0.437, "color": "#9a9a9a"},
            {"offset": 0.44, "color": "#f8f8f8"}, {"offset": 0.474, "color": "#f8f8f8"}, {"offset": 0.477, "color": "#9a9a9a"},
            {"offset": 0.48, "color": "#f8f8f8"}, {"offset": 0.514, "color": "#f8f8f8"}, {"offset": 0.517, "color": "#9a9a9a"},
            {"offset": 0.52, "color": "#f8f8f8"}, {"offset": 0.554, "color": "#f8f8f8"}, {"offset": 0.557, "color": "#9a9a9a"},
            {"offset": 0.56, "color": "#f8f8f8"}, {"offset": 0.594, "color": "#f8f8f8"}, {"offset": 0.597, "color": "#9a9a9a"},
            {"offset": 0.6, "color": "#f8f8f8"}, {"offset": 0.634, "color": "#f8f8f8"}, {"offset": 0.637, "color": "#9a9a9a"},
            {"offset": 0.64, "color": "#f8f8f8"}, {"offset": 0.674, "color": "#f8f8f8"}, {"offset": 0.677, "color": "#9a9a9a"},
            {"offset": 0.68, "color": "#f8f8f8"}, {"offset": 0.714, "color": "#f8f8f8"}, {"offset": 0.717, "color": "#9a9a9a"},
            {"offset": 0.72, "color": "#f8f8f8"}, {"offset": 0.754, "color": "#f8f8f8"}, {"offset": 0.757, "color": "#9a9a9a"},
            {"offset": 0.76, "color": "#f8f8f8"}, {"offset": 0.794, "color": "#f8f8f8"}, {"offset": 0.797, "color": "#9a9a9a"},
            {"offset": 0.8, "color": "#f8f8f8"}, {"offset": 0.834, "color": "#f8f8f8"}, {"offset": 0.837, "color": "#9a9a9a"},
            {"offset": 0.84, "color": "#f8f8f8"}, {"offset": 0.874, "color": "#f8f8f8"}, {"offset": 0.877, "color": "#9a9a9a"},
            {"offset": 0.88, "color": "#f8f8f8"}, {"offset": 0.914, "color": "#f8f8f8"}, {"offset": 0.917, "color": "#9a9a9a"},
            {"offset": 0.92, "color": "#f8f8f8"}, {"offset": 0.954, "color": "#f8f8f8"}, {"offset": 0.957, "color": "#9a9a9a"},
            {"offset": 0.96, "color": "#f8f8f8"}, {"offset": 0.994, "color": "#f8f8f8"}, {"offset": 0.997, "color": "#9a9a9a"},
            {"offset": 1, "color": "#f8f8f8"}
          ]
        }
      },
      "encoding": {
        "x": {"field": "sample", "type": "nominal"},
        "y": {"field": "lo", "type": "quantitative"},
        "y2": {"field": "hi"}
      }
    },
    {
      "data": {"name": "segments"},
      "transform": [
        {"stack": "doc", "groupby": ["sample"], "sort": [{"field": "seq", "order": "ascending"}], "as": ["lo", "hi"]},
        {"filter": {"field": "fraction", "equal": "HPON"}}
      ],
      "mark": {
        "type": "bar", "stroke": "#333333", "strokeWidth": 1.3,
        "fill": {
          "gradient": "linear", "x1": 0, "y1": 0, "x2": 0, "y2": 1,
          "stops": [
            {"offset": 0, "color": "#f8f8f8"}, {"offset": 0.28, "color": "#f8f8f8"}, {"offset": 0.31, "color": "#9a9a9a"},
            {"offset": 0.34, "color": "#f8f8f8"}, {"offset": 0.61, "color": "#f8f8f8"}, {"offset": 0.64, "color": "#9a9a9a"},
            {"offset": 0.67, "color": "#f8f8f8"}, {"offset": 0.94, "color": "#f8f8f8"}, {"offset": 0.97, "color": "#9a9a9a"},
            {"offset": 1, "color": "#f8f8f8"}
          ]
        }
      },
      "encoding": {
        "x": {"field": "sample", "type": "nominal"},
        "y": {"field": "lo", "type": "quantitative"},
        "y2": {"field": "hi"}
      }
    },
    {
      "data": {"name": "segments"},
      "transform": [
        {"stack": "doc", "groupby": ["sample"], "sort": [{"field": "seq", "order": "ascending"}], "as": ["lo", "hi"]},
        {"filter": {"field": "fraction", "oneOf": ["HPO", "HPON"]}}
      ],
      "mark": {
        "type": "bar", "stroke": "#333333", "strokeWidth": 1.3,
        "fill": {
          "gradient": "linear", "x1": 0, "y1": 0, "x2": 1, "y2": 0,
          "stops": [
            {"offset": 0, "color": "rgba(150,150,150,0)"}, {"offset": 0.05, "color": "rgba(150,150,150,0)"}, {"offset": 0.056, "color": "rgba(150,150,150,0.9)"},
            {"offset": 0.0625, "color": "rgba(150,150,150,0)"}, {"offset": 0.1125, "color": "rgba(150,150,150,0)"}, {"offset": 0.1185, "color": "rgba(150,150,150,0.9)"},
            {"offset": 0.125, "color": "rgba(150,150,150,0)"}, {"offset": 0.175, "color": "rgba(150,150,150,0)"}, {"offset": 0.181, "color": "rgba(150,150,150,0.9)"},
            {"offset": 0.1875, "color": "rgba(150,150,150,0)"}, {"offset": 0.2375, "color": "rgba(150,150,150,0)"}, {"offset": 0.2435, "color": "rgba(150,150,150,0.9)"},
            {"offset": 0.25, "color": "rgba(150,150,150,0)"}, {"offset": 0.3, "color": "rgba(150,150,150,0)"}, {"offset": 0.306, "color": "rgba(150,150,150,0.9)"},
            {"offset": 0.3125, "color": "rgba(150,150,150,0)"}, {"offset": 0.3625, "color": "rgba(150,150,150,0)"}, {"offset": 0.3685, "color": "rgba(150,150,150,0.9)"},
            {"offset": 0.375, "color": "rgba(150,150,150,0)"}, {"offset": 0.425, "color": "rgba(150,150,150,0)"}, {"offset": 0.431, "color": "rgba(150,150,150,0.9)"},
            {"offset": 0.4375, "color": "rgba(150,150,150,0)"}, {"offset": 0.4875, "color": "rgba(150,150,150,0)"}, {"offset": 0.4935, "color": "rgba(150,150,150,0.9)"},
            {"offset": 0.5, "color": "rgba(150,150,150,0)"}, {"offset": 0.55, "color": "rgba(150,150,150,0)"}, {"offset": 0.556, "color": "rgba(150,150,150,0.9)"},
            {"offset": 0.5625, "color": "rgba(150,150,150,0)"}, {"offset": 0.6125, "color": "rgba(150,150,150,0)"}, {"offset": 0.6185, "color": "rgba(150,150,150,0.9)"},
            {"offset": 0.625, "color": "rgba(150,150,150,0)"}, {"offset": 0.675, "color": "rgba(150,150,150,0)"}, {"offset": 0.681, "color": "rgba(150,150,150,0.9)"},
            {"offset": 0.6875, "color": "rgba(150,150,150,0)"}, {"offset": 0.7375, "color": "rgba(150,150,150,0)"}, {"offset": 0.7435, "color": "rgba(150,150,150,0.9)"},
            {"offset": 0.75, "color": "rgba(150,150,150,0)"}, {"offset": 0.8, "color": "rgba(150,150,150,0)"}, {"offset": 0.806, "color": "rgba(150,150,150,0.9)"},
            {"offset": 0.8125, "color": "rgba(150,150,150,0)"}, {"offset": 0.8625, "color": "rgba(150,150,150,0)"}, {"offset": 0.8685, "color": "rgba(150,150,150,0.9)"},
            {"offset": 0.875, "color": "rgba(150,150,150,0)"}, {"offset": 0.925, "color": "rgba(150,150,150,0)"}, {"offset": 0.931, "color": "rgba(150,150,150,0.9)"},
            {"offset": 0.9375, "color": "rgba(150,150,150,0)"}, {"offset": 1, "color": "rgba(150,150,150,0)"}
          ]
        }
      },
      "encoding": {
        "x": {"field": "sample", "type": "nominal"},
        "y": {"field": "lo", "type": "quantitative"},
        "y2": {"field": "hi"}
      }
    },
    {
      "data": {"name": "boxes"},
      "transform": [{"filter": {"field": "sample", "equal": "Effluent"}}],
      "mark": {"type": "bar", "fill": "white", "width": {"band": 0.85}, "xOffset": -1},
      "encoding": {
        "x": {"field": "sample", "type": "nominal"},
        "y": {"field": "lo", "type": "quantitative"},
        "y2": {"field": "hi"}
      }
    },
    {
      "data": {"name": "boxes"},
      "transform": [{"filter": {"field": "sample", "equal": "Fractions"}}],
      "mark": {"type": "bar", "fill": "white", "width": {"band": 0.45}, "xOffset": 6},
      "encoding": {
        "x": {"field": "sample", "type": "nominal"},
        "y": {"field": "lo", "type": "quantitative"},
        "y2": {"field": "hi"}
      }
    },
    {
      "data": {"name": "boxes"},
      "transform": [{"filter": {"field": "label", "oneOf": ["HPO", "HPI"]}}],
      "mark": {"type": "bar", "fill": "white", "width": {"band": 0.46}, "xOffset": -2},
      "encoding": {
        "x": {"field": "sample", "type": "nominal"},
        "y": {"field": "lo", "type": "quantitative"},
        "y2": {"field": "hi"}
      }
    },
    {
      "data": {"name": "boxes"},
      "transform": [{"filter": {"field": "label", "oneOf": ["3.31±0.03", "3.14±0.03"]}}],
      "mark": {"type": "bar", "fill": "white", "width": {"band": 0.6}, "xOffset": 1},
      "encoding": {
        "x": {"field": "sample", "type": "nominal"},
        "y": {"field": "lo", "type": "quantitative"},
        "y2": {"field": "hi"}
      }
    },
    {
      "data": {"name": "pointer"},
      "mark": {"type": "rule", "color": "#222222", "strokeWidth": 1.5, "xOffset": 7},
      "encoding": {
        "x": {"field": "sample", "type": "nominal"},
        "y": {"field": "from", "type": "quantitative"},
        "y2": {"field": "to"}
      }
    },
    {
      "data": {"name": "pointer"},
      "mark": {"type": "point", "filled": true, "color": "#222222", "size": 18, "opacity": 1, "xOffset": 7},
      "encoding": {
        "x": {"field": "sample", "type": "nominal"},
        "y": {"field": "from", "type": "quantitative"}
      }
    },
    {
      "data": {"name": "innerText"},
      "transform": [{"filter": {"field": "sample", "equal": "Fractions"}}],
      "mark": {"type": "text", "align": "center", "baseline": "middle", "dx": 6},
      "encoding": {
        "x": {"field": "sample", "type": "nominal"},
        "y": {"field": "at", "type": "quantitative"},
        "text": {"field": "text"}
      }
    },
    {
      "data": {"name": "innerText"},
      "transform": [{"filter": {"field": "sample", "oneOf": ["Effluent", "Combined"]}}],
      "mark": {"type": "text", "align": "center", "baseline": "middle", "dx": -1},
      "encoding": {
        "x": {"field": "sample", "type": "nominal"},
        "y": {"field": "at", "type": "quantitative"},
        "text": {"field": "text"}
      }
    },
    {
      "data": {"name": "leftText"},
      "mark": {"type": "text", "align": "right", "baseline": "middle", "dx": -10},
      "encoding": {
        "x": {"field": "sample", "type": "nominal", "bandPosition": 0},
        "y": {"field": "at", "type": "quantitative"},
        "text": {"field": "text"}
      }
    },
    {
      "data": {"name": "rightText"},
      "mark": {"type": "text", "align": "left", "baseline": "middle", "dx": 7},
      "encoding": {
        "x": {"field": "sample", "type": "nominal", "bandPosition": 1},
        "y": {"field": "at", "type": "quantitative"},
        "text": {"field": "text"}
      }
    },
    {
      "data": {"name": "topText"},
      "mark": {"type": "text", "align": "center", "baseline": "bottom", "dy": -3},
      "encoding": {
        "x": {"field": "sample", "type": "nominal"},
        "y": {"field": "at", "type": "quantitative"},
        "text": {"field": "text"}
      }
    }
  ]
}
